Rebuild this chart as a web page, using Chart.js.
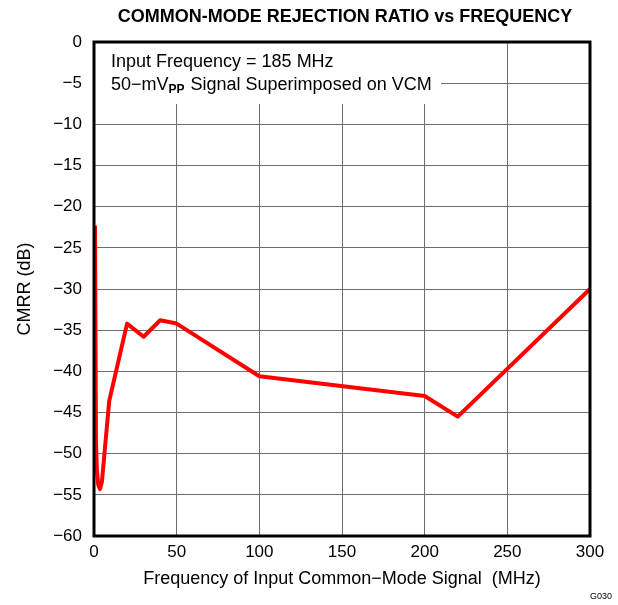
<!DOCTYPE html>
<html>
<head>
<meta charset="utf-8">
<script src="https://cdn.jsdelivr.net/npm/chart.js@4"></script>
<style>
  html, body { margin: 0; padding: 0; background: #fff; }
  #wrap { width: 618px; height: 605px; }
</style>
</head>
<body>
<div id="wrap"><canvas id="cmrrChart" width="618" height="605"></canvas></div>
<script>
// CMRR measured against the frequency of the common-mode signal
const freqMHz = [0.6, 1.2, 1.8, 2.6, 3.6, 4.8, 9.2, 20, 30, 40, 50, 100, 200, 220, 300];
const cmrrDb = [-22.3, -48.6, -52.2, -53.8, -54.3, -53.4, -43.6, -34.2, -35.8, -33.8, -34.2, -40.6, -43.0, -45.5, -30.0];

const xTicks = [0, 50, 100, 150, 200, 250, 300];
const yTicks = [0, -5, -10, -15, -20, -25, -30, -35, -40, -45, -50, -55, -60];

const FONT = 'Arial, "Liberation Sans", sans-serif';

function minus(v) {
    return String(v).replace('-', '\u2212');
}

// title, note box, frame and figure id
const decorations = {
    id: 'decorations',
    beforeDatasetsDraw(chart) {
        const ctx = chart.ctx;
        const area = chart.chartArea;
        ctx.save();
        ctx.fillStyle = '#fff';
        ctx.fillRect(area.left, area.top, 347, 62);

        ctx.fillStyle = '#000';
        ctx.font = '18px ' + FONT;
        ctx.textBaseline = 'alphabetic';
        ctx.textAlign = 'left';
        ctx.fillText('Input Frequency = 185 MHz', 111, 67);
        let x = 111;
        const y2 = 90;
        const first = '50\u2212mV';
        ctx.fillText(first, x, y2);
        x += ctx.measureText(first).width;
        ctx.font = 'bold 12px ' + FONT;
        ctx.fillText('PP', x, y2 + 3);
        x += ctx.measureText('PP').width + 1;
        ctx.font = '18px ' + FONT;
        ctx.fillText(' Signal Superimposed on VCM', x, y2);
        ctx.restore();
    },
    afterDatasetsDraw(chart) {
        const ctx = chart.ctx;
        const area = chart.chartArea;
        ctx.save();
        ctx.strokeStyle = '#000';
        ctx.lineWidth = 3;
        ctx.strokeRect(area.left, area.top, area.right - area.left, area.bottom - area.top);

        ctx.fillStyle = '#000';
        ctx.font = 'bold 18px ' + FONT;
        ctx.textAlign = 'center';
        ctx.textBaseline = 'middle';
        ctx.fillText('COMMON-MODE REJECTION RATIO vs FREQUENCY', 345, 17);

        ctx.font = '9px ' + FONT;
        ctx.textAlign = 'right';
        ctx.fillText('G030', 612, 597);
        ctx.restore();
    }
};

new Chart(document.getElementById('cmrrChart').getContext('2d'), {
    type: 'line',
    data: {
        datasets: [{
            label: 'CMRR',
            data: freqMHz.map((f, i) => ({ x: f, y: cmrrDb[i] })),
            borderColor: '#ff0000',
            borderWidth: 4,
            pointRadius: 0,
            tension: 0,
            clip: false,
            borderJoinStyle: 'round'
        }]
    },
    options: {
        responsive: false,
        animation: false,
        layout: { padding: { left: 0, right: 28, top: 42, bottom: 0 } },
        plugins: {
            legend: { display: false },
            tooltip: { enabled: false }
        },
        scales: {
            x: {
                type: 'linear',
                min: 0,
                max: 300,
                afterBuildTicks: axis => { axis.ticks = xTicks.map(v => ({ value: v })); },
                afterFit: axis => { axis.height = 69; },
                grid: { color: '#6e6e6e', lineWidth: 1, drawTicks: false },
                border: { display: false },
                ticks: {
                    color: '#000',
                    padding: 6,
                    font: { family: FONT, size: 17 },
                    callback: v => minus(v)
                },
                title: {
                    display: true,
                    text: 'Frequency of Input Common\u2212Mode Signal  (MHz)',
                    color: '#000',
                    font: { family: FONT, size: 18 },
                    padding: { top: 0, bottom: 15 }
                }
            },
            y: {
                type: 'linear',
                min: -60,
                max: 0,
                afterBuildTicks: axis => { axis.ticks = yTicks.map(v => ({ value: v })); },
                afterFit: axis => { axis.width = 94; },
                grid: { color: '#6e6e6e', lineWidth: 1, drawTicks: false },
                border: { display: false },
                ticks: {
                    color: '#000',
                    padding: 12,
                    font: { family: FONT, size: 17 },
                    callback: v => minus(v)
                },
                title: {
                    display: true,
                    text: 'CMRR (dB)',
                    color: '#000',
                    font: { family: FONT, size: 18 },
                    padding: { top: 14, bottom: 0 }
                }
            }
        }
    },
    plugins: [decorations]
});
</script>
</body>
</html>
